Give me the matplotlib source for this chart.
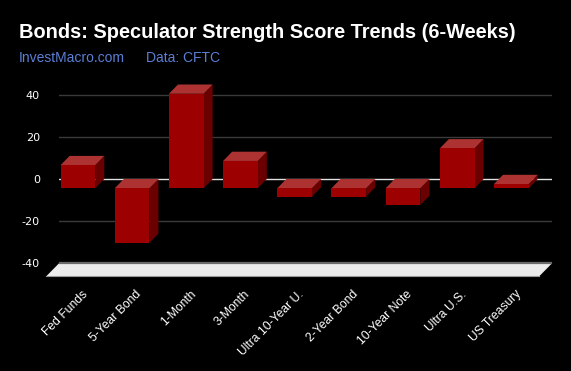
import matplotlib
matplotlib.use("Agg")
import matplotlib.pyplot as plt
from matplotlib.patches import Polygon
from matplotlib.transforms import ScaledTranslation

# data
categories = ["Fed Funds", "5-Year Bond", "1-Month", "3-Month", "Ultra 10-Year U.",
              "2-Year Bond", "10-Year Note", "Ultra U.S.", "US Treasury"]
scores = [11, -26, 45, 13, -4, -4, -8, 19, 2]
y_ticks = [-40, -20, 0, 20, 40]

title = "Bonds: Speculator Strength Score Trends (6-Weeks)"
source_left = "InvestMacro.com"
source_right = "Data: CFTC"

# pseudo-3D look (oblique offset of the bar front faces, in data units)
BAR_W = 0.64
DX, DY = -0.166, -4.4
FLOOR_DX, FLOOR_DY = -0.24, -6.3
FRONT, TOP, SIDE = "#9c0000", "#ad3333", "#6a0000"

plt.rcParams["font.family"] = ["Liberation Sans", "DejaVu Sans"]

fig = plt.figure(figsize=(5.71, 3.71), dpi=100, facecolor="black")
ax = fig.add_axes([59.3 / 571, 1 - 284 / 371, 493 / 571, 210 / 371])
ax.set_facecolor("black")
ax.set_xlim(-0.51, 8.59)
ax.set_ylim(-50, 50)
for s in ax.spines.values():
    s.set_visible(False)

# grid
for t in y_ticks:
    if t == -40:
        continue
    ax.axhline(t, color="#e0e0e0" if t == 0 else "#3a3a3a", lw=1, zorder=1)

# floor
x0, x1 = ax.get_xlim()
floor = [(x0, -40), (x1, -40), (x1 + FLOOR_DX, -40 + FLOOR_DY), (x0 + FLOOR_DX, -40 + FLOOR_DY)]
ax.add_patch(Polygon(floor, closed=True, facecolor="#ececec", edgecolor="none",
                     zorder=2, clip_on=False))
ax.plot([x0, x1], [-40, -40], color="#6a6a6a", lw=1.6, zorder=3,
        solid_capstyle="butt", clip_on=False)
ax.plot([x0 + FLOOR_DX, x1 + FLOOR_DX], [-40 + FLOOR_DY] * 2, color="#9a9a9a",
        lw=0.8, zorder=3, clip_on=False)

# bars
for i, v in enumerate(scores):
    l, r = i - BAR_W / 2, i + BAR_W / 2
    top, bot = max(0, v), min(0, v)
    front = [(l + DX, bot + DY), (r + DX, bot + DY), (r + DX, top + DY), (l + DX, top + DY)]
    lid = [(l + DX, top + DY), (r + DX, top + DY), (r, top), (l, top)]
    side = [(r + DX, bot + DY), (r, bot), (r, top), (r + DX, top + DY)]
    for pts, c in ((side, SIDE), (lid, TOP), (front, FRONT)):
        ax.add_patch(Polygon(pts, closed=True, facecolor=c, edgecolor="none",
                             zorder=4, clip_on=False))

ax.set_yticks(y_ticks)
ax.set_yticklabels([str(t) for t in y_ticks], fontfamily="DejaVu Sans")
ax.set_xticks(range(len(categories)))
ax.set_xticklabels(categories, rotation=45, ha="right", rotation_mode="anchor")
ax.tick_params(axis="y", length=0, pad=14, labelcolor="white", labelsize=8)
ax.tick_params(axis="x", length=0, pad=3, labelcolor="white", labelsize=8.7)
shift = ScaledTranslation(-4 / 72, 0, fig.dpi_scale_trans)
for lab in ax.get_xticklabels():
    lab.set_transform(lab.get_transform() + shift)

fig.text(19 / 571, 1 - 33 / 371, title, color="white", fontsize=14.4, fontweight="bold", va="center")
fig.text(19 / 571, 1 - 58 / 371, source_left, color="#5b7fd6", fontsize=10, va="center")
fig.text(146 / 571, 1 - 58 / 371, source_right, color="#5b7fd6", fontsize=10, va="center")

fig.savefig("out.png", dpi=100, facecolor="black")
